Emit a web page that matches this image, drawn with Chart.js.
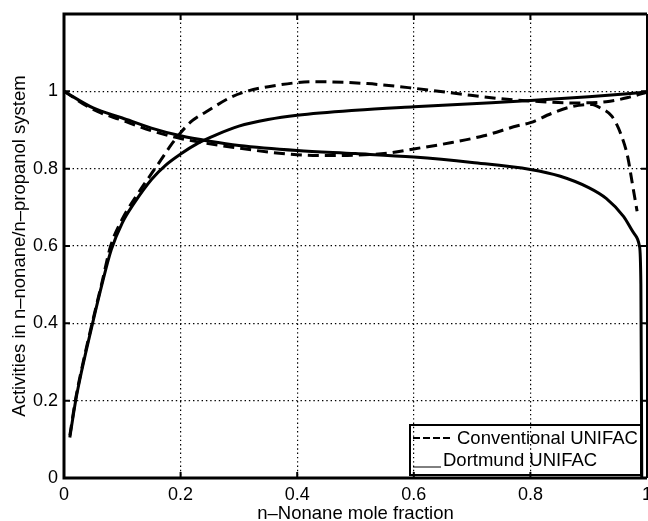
<!DOCTYPE html>
<html>
<head>
<meta charset="utf-8">
<script src="https://cdn.jsdelivr.net/npm/chart.js@4/dist/chart.umd.min.js"></script>
<style>
  html, body { margin: 0; padding: 0; background: #fff; overflow: hidden; }
</style>
</head>
<body>
<canvas id="myChart" width="648" height="521"></canvas>
<script>
// n-nonane mole fraction (x) and activity (a) for each curve
const xDortNonane = [0.01, 0.02, 0.03, 0.049, 0.065, 0.081, 0.1, 0.12, 0.15, 0.175, 0.2, 0.23, 0.26, 0.3, 0.35, 0.4, 0.5, 0.6, 0.7, 0.8, 0.9, 1.0];
const aDortNonane = [0.105, 0.2, 0.275, 0.4, 0.5, 0.59, 0.66, 0.71, 0.772, 0.81, 0.838, 0.866, 0.887, 0.91, 0.927, 0.938, 0.951, 0.96, 0.968, 0.976, 0.986, 0.998];

const xDortPropanol = [0, 0.05, 0.1, 0.15, 0.2, 0.25, 0.3, 0.4, 0.5, 0.6, 0.7, 0.8, 0.85, 0.9, 0.93, 0.96, 0.98, 0.987, 0.9895, 0.9905, 0.991];
const aDortPropanol = [1.0, 0.957, 0.931, 0.905, 0.885, 0.871, 0.86, 0.847, 0.839, 0.83, 0.816, 0.798, 0.781, 0.751, 0.723, 0.676, 0.628, 0.6, 0.5, 0.2, 0.0];

const xConvNonane = [0.01, 0.02, 0.03, 0.049, 0.065, 0.08, 0.1, 0.12, 0.15, 0.166, 0.184, 0.2, 0.22, 0.244, 0.284, 0.313, 0.358, 0.43, 0.52, 0.6, 0.68, 0.755, 0.8, 0.87, 0.93, 0.97, 1.0];
const aConvNonane = [0.11, 0.205, 0.28, 0.405, 0.505, 0.6, 0.67, 0.72, 0.787, 0.822, 0.862, 0.893, 0.924, 0.947, 0.983, 1.0, 1.014, 1.025, 1.02, 1.008, 0.993, 0.98, 0.975, 0.97, 0.973, 0.985, 0.998];

const xConvPropanol = [0, 0.05, 0.1, 0.15, 0.2, 0.3, 0.4, 0.45, 0.5, 0.555, 0.6, 0.663, 0.72, 0.778, 0.8, 0.835, 0.87, 0.906, 0.92, 0.94, 0.955, 0.967, 0.975, 0.983];
const aConvPropanol = [1.0, 0.953, 0.925, 0.898, 0.878, 0.853, 0.836, 0.834, 0.835, 0.84, 0.851, 0.867, 0.885, 0.911, 0.919, 0.942, 0.96, 0.966, 0.957, 0.935, 0.89, 0.83, 0.76, 0.69];

const xTicks = [0, 0.2, 0.4, 0.6, 0.8, 1];
const xTickLabels = ['0', '0.2', '0.4', '0.6', '0.8', '1'];
const yTicks = [0, 0.2, 0.4, 0.6, 0.8, 1, 1.2];
const yTickLabels = ['0', '0.2', '0.4', '0.6', '0.8', '1', ''];

const seriesNames = ['Conventional UNIFAC', 'Dortmund UNIFAC'];

const FONT = "'Liberation Sans', Arial, Helvetica, sans-serif";

function toPoints(xs, ys) {
    return xs.map((v, i) => ({x: v, y: ys[i]}));
}

function curve(label, xs, ys, dashed) {
    return {
        label: label,
        data: toPoints(xs, ys),
        showLine: true,
        borderColor: '#000',
        borderWidth: 3,
        borderDash: dashed ? [11, 6] : [],
        pointRadius: 0,
        cubicInterpolationMode: 'monotone',
        fill: false
    };
}

// box round the plot, inward tick marks and the legend
const framePlugin = {
    id: 'frame',
    afterDatasetsDraw(chart) {
        const {ctx, chartArea: a, scales: {x, y}} = chart;
        ctx.save();
        ctx.strokeStyle = '#000';
        ctx.setLineDash([]);

        ctx.lineWidth = 2;
        ctx.beginPath();
        xTicks.forEach(v => {
            const px = x.getPixelForValue(v);
            ctx.moveTo(px, a.bottom); ctx.lineTo(px, a.bottom - 6);
            ctx.moveTo(px, a.top); ctx.lineTo(px, a.top + 6);
        });
        yTicks.forEach(v => {
            const py = y.getPixelForValue(v);
            ctx.moveTo(a.left, py); ctx.lineTo(a.left + 6, py);
            ctx.moveTo(a.right, py); ctx.lineTo(a.right - 6, py);
        });
        ctx.stroke();

        ctx.lineWidth = 3;
        ctx.beginPath();
        ctx.moveTo(a.right, a.top);
        ctx.lineTo(a.left, a.top);
        ctx.lineTo(a.left, a.bottom);
        ctx.lineTo(a.right, a.bottom);
        ctx.stroke();
        ctx.lineWidth = 2;
        ctx.beginPath();
        ctx.moveTo(a.right, a.top);
        ctx.lineTo(a.right, a.bottom);
        ctx.stroke();

        // legend box in the lower right corner
        const bx = a.right - 237, by = a.bottom - 53, bw = 231, bh = 50;
        ctx.lineWidth = 2;
        ctx.strokeRect(bx, by, bw, bh);

        ctx.lineWidth = 2;
        ctx.setLineDash([7, 3]);
        ctx.beginPath();
        ctx.moveTo(bx + 3, by + 13);
        ctx.lineTo(bx + 43, by + 13);
        ctx.stroke();
        ctx.setLineDash([]);
        ctx.lineWidth = 1;
        ctx.beginPath();
        ctx.moveTo(bx + 3, by + 42);
        ctx.lineTo(bx + 31, by + 42);
        ctx.stroke();

        ctx.fillStyle = '#000';
        ctx.font = '18.5px ' + FONT;
        ctx.textBaseline = 'middle';
        ctx.textAlign = 'left';
        ctx.fillText(seriesNames[0], bx + 47, by + 14);
        ctx.fillText(seriesNames[1], bx + 33, by + 36);
        ctx.restore();
    }
};

const gridStyle = {
    color: '#000',
    lineWidth: 1.2,
    drawTicks: false
};

const config = {
    type: 'scatter',
    data: {
        datasets: [
            curve(seriesNames[0], xConvNonane, aConvNonane, true),
            curve(seriesNames[0], xConvPropanol, aConvPropanol, true),
            curve(seriesNames[1], xDortNonane, aDortNonane, false),
            curve(seriesNames[1], xDortPropanol, aDortPropanol, false)
        ]
    },
    options: {
        responsive: false,
        animation: false,
        layout: {
            padding: {top: 14, right: 1, left: 0, bottom: 0}
        },
        plugins: {
            legend: {display: false},
            tooltip: {enabled: false}
        },
        scales: {
            x: {
                type: 'linear',
                min: 0,
                max: 1,
                afterBuildTicks: scale => { scale.ticks = xTicks.map(v => ({value: v})); },
                afterFit: scale => {
                    scale.height = 43;
                    scale.paddingLeft = 0;
                    scale.paddingRight = 0;
                },
                grid: gridStyle,
                border: {display: false, dash: [1.4, 2.9]},
                ticks: {
                    autoSkip: false,
                    maxRotation: 0,
                    padding: 6,
                    color: '#000',
                    font: {family: FONT, size: 18},
                    callback: (v, i) => xTickLabels[i]
                },
                title: {
                    display: true,
                    text: 'n–Nonane mole fraction',
                    color: '#000',
                    font: {family: FONT, size: 18.5, lineHeight: 0.8},
                    padding: 0
                }
            },
            y: {
                type: 'linear',
                min: 0,
                max: 1.2,
                afterBuildTicks: scale => { scale.ticks = yTicks.map(v => ({value: v})); },
                afterFit: scale => {
                    scale.width = 64;
                    scale.paddingTop = 0;
                    scale.paddingBottom = 0;
                },
                grid: gridStyle,
                border: {display: false, dash: [1.4, 2.9]},
                ticks: {
                    autoSkip: false,
                    padding: 6,
                    color: '#000',
                    font: {family: FONT, size: 18},
                    callback: (v, i) => yTickLabels[i]
                },
                title: {
                    display: true,
                    text: 'Activities in n–nonane/n–propanol system',
                    color: '#000',
                    font: {family: FONT, size: 18.5},
                    padding: {top: 9, bottom: 0}
                }
            }
        }
    },
    plugins: [framePlugin]
};

var myChart = new Chart(document.getElementById('myChart'), config);
</script>
</body>
</html>
